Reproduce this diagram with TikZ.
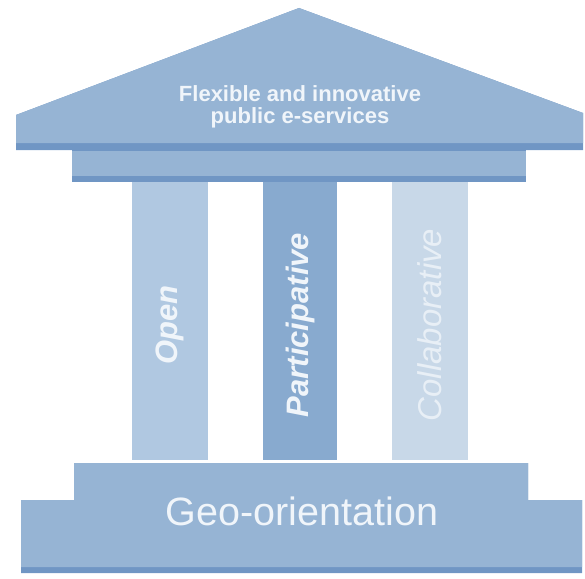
\documentclass[tikz,border=0pt]{standalone}
\usepackage{fontspec}
\setmainfont{Liberation Sans}
\definecolor{facec}{RGB}{150,180,212}
\definecolor{darkc}{RGB}{112,150,196}
\definecolor{openc}{RGB}{176,200,225}
\definecolor{partc}{RGB}{136,170,207}
\definecolor{collc}{RGB}{200,216,232}
\definecolor{txtc}{RGB}{240,245,250}
\definecolor{colltxt}{RGB}{232,239,246}
\begin{document}
\begin{tikzpicture}[x=1pt,y=-1pt,
  face/.style={fill=facec},
  shade/.style={fill=darkc},
  label/.style={inner sep=0pt, text=txtc},
  pillartext/.style={inner sep=0pt, text=txtc, rotate=90}]
\useasboundingbox (0,0) rectangle (585,578);
% roof
\fill[shade] (16,115) -- (299,8) -- (583,113) -- (583,150) -- (16,150) -- cycle;
\fill[face] (16,115) -- (299,8) -- (583,113) -- (583,143) -- (16,143) -- cycle;
% architrave
\fill[shade] (72,150) rectangle (526,182);
\fill[face] (72,151) rectangle (526,176);
% pillars
\fill[openc] (132,182) rectangle (208,460);
\fill[partc] (263,182) rectangle (337,460);
\fill[collc] (392,182) rectangle (468,460);
% base
\fill[shade] (74,463) -- (528,463) -- (528,500) -- (582,500) -- (582,573) -- (21,573) -- (21,500) -- (74,500) -- cycle;
\fill[face] (74,463) -- (528,463) -- (528,500) -- (582,500) -- (582,567) -- (21,567) -- (21,500) -- (74,500) -- cycle;
% texts
\node[label, align=center, font=\bfseries\fontsize{22}{22}\selectfont] (roof) at (300,107) {Flexible and innovative\\public e-services};
\node[label, anchor=base, font=\fontsize{39.5}{39.5}\selectfont] (base) at (302,525) {Geo-orientation};
\node[pillartext, font=\bfseries\itshape\fontsize{31}{31}\selectfont] (open) at (170,325) {Open};
\node[pillartext, font=\bfseries\itshape\fontsize{31}{31}\selectfont] (part) at (300,325) {Participative};
\node[pillartext, text=colltxt, font=\itshape\fontsize{33}{33}\selectfont] (coll) at (430,325) {Collaborative};
\end{tikzpicture}
\end{document}
